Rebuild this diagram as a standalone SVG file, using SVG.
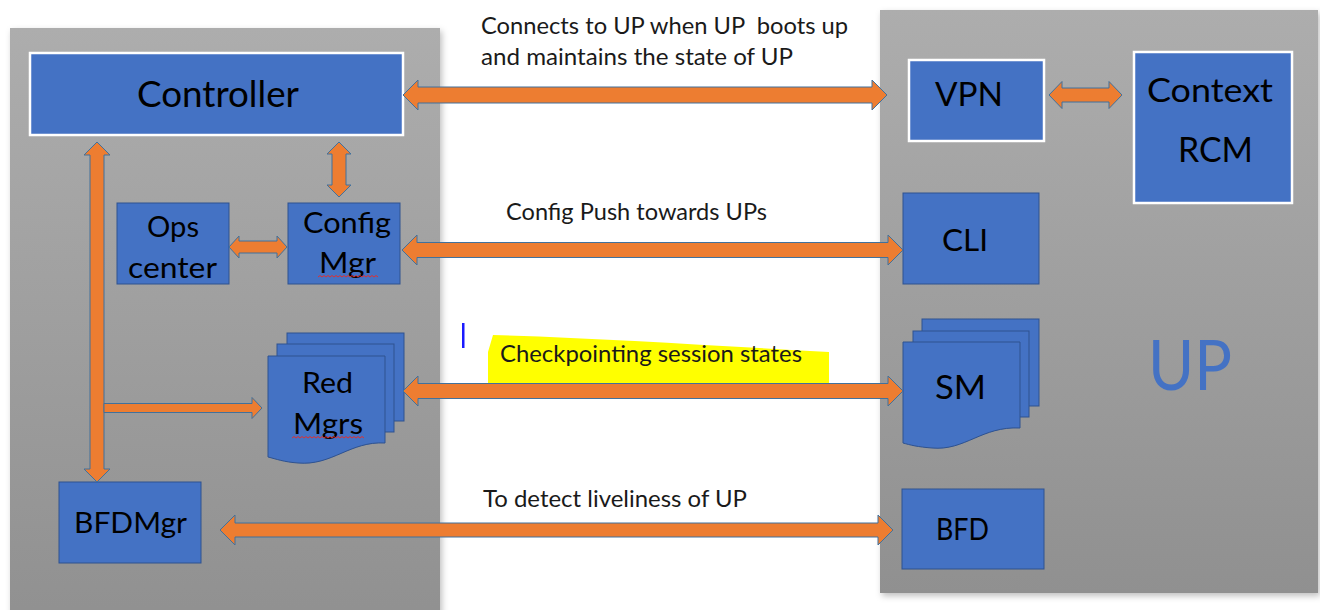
<svg xmlns="http://www.w3.org/2000/svg" width="1320" height="610" viewBox="0 0 1320 610">
<defs>
<linearGradient id="panelGrad" x1="0" y1="0" x2="0" y2="1">
<stop offset="0" stop-color="#adadad"/>
<stop offset="1" stop-color="#909090"/>
</linearGradient>
<filter id="shadow" x="-5%" y="-5%" width="110%" height="110%">
<feDropShadow dx="2" dy="3" stdDeviation="3" flood-color="#000" flood-opacity="0.25"/>
</filter>
</defs>
<style>
.panel{fill:url(#panelGrad);filter:url(#shadow)}
.box{fill:#4472c4;stroke:#2f528f;stroke-width:1}
.wbox{fill:#4472c4;stroke:#ffffff;stroke-width:2.5}
.arrow{fill:#ed7d31;stroke:#41719c;stroke-width:1}
.t{font-family:Lato,"Liberation Sans",sans-serif;fill:#000}
.lbl{font-family:Lato,"Liberation Sans",sans-serif;fill:#1a1a1a;font-size:23px;white-space:pre}
.sq{fill:none;stroke:#e03030;stroke-width:1}
</style>
<rect width="1320" height="610" fill="#ffffff"/>

<g id="panel-left">
<rect class="panel" x="10" y="28" width="430" height="600"/>
</g>
<g id="panel-up">
<rect class="panel" x="880" y="10" width="438" height="583"/>
<text class="t" x="1148" y="390" font-size="70" fill="#4472c4" style="fill:#4472c4" textLength="84" lengthAdjust="spacingAndGlyphs">UP</text>
</g>

<g id="labels">
<text class="lbl" x="481" y="34" textLength="367" lengthAdjust="spacingAndGlyphs" xml:space="preserve">Connects to UP when UP  boots up</text>
<text class="lbl" x="481" y="65" textLength="312" lengthAdjust="spacingAndGlyphs">and maintains the state of UP</text>
<text class="lbl" x="506" y="220" textLength="261" lengthAdjust="spacingAndGlyphs">Config Push towards UPs</text>
<path d="M488,352 L493,335 C600,338 720,346 829,352 L829,383 L488,383 Z" fill="#ffff00"/>
<text class="lbl" x="500" y="362" textLength="302" lengthAdjust="spacingAndGlyphs">Checkpointing session states</text>
<rect x="462" y="323" width="2.5" height="25" fill="#1a1aff"/>
<text class="lbl" x="483" y="507" textLength="264" lengthAdjust="spacingAndGlyphs">To detect liveliness of UP</text>
</g>

<g id="controller">
<rect class="wbox" x="30" y="53" width="373" height="82"/>
<text class="t" x="137" y="107" font-size="36" textLength="162" lengthAdjust="spacingAndGlyphs">Controller</text>
</g>
<g id="ops-center">
<rect class="box" x="117" y="203" width="112" height="81"/>
<text class="t" x="147" y="237" font-size="28" textLength="52" lengthAdjust="spacingAndGlyphs">Ops</text>
<text class="t" x="128" y="278" font-size="28" textLength="89" lengthAdjust="spacingAndGlyphs">center</text>
</g>
<g id="config-mgr">
<rect class="box" x="288" y="203" width="112" height="81"/>
<text class="t" x="303" y="233" font-size="28" textLength="88" lengthAdjust="spacingAndGlyphs">Config</text>
<text class="t" x="319" y="273" font-size="28" textLength="57" lengthAdjust="spacingAndGlyphs">Mgr</text>
<polyline class="sq" points="318,277 320,275.5 322,277 324,275.5 326,277 328,275.5 330,277 332,275.5 334,277 336,275.5 338,277 340,275.5 342,277 344,275.5 346,277 348,275.5 350,277 352,275.5 354,277 356,275.5 358,277 360,275.5 362,277 364,275.5 366,277 368,275.5 370,277 372,275.5 374,277 376,275.5 378,277"/>
</g>
<g id="red-mgrs">
<rect class="box" x="287" y="333" width="117" height="88"/>
<rect class="box" x="277" y="344" width="117" height="88"/>
<path class="box" d="M268,356 H385 V443 C350,441 332,466 298,463 C284,462 276,459 268,457 Z"/>
<text class="t" x="302" y="393" font-size="29" textLength="51" lengthAdjust="spacingAndGlyphs">Red</text>
<text class="t" x="293" y="434" font-size="29" textLength="70" lengthAdjust="spacingAndGlyphs">Mgrs</text>
<polyline class="sq" points="292,438 294,436.5 296,438 298,436.5 300,438 302,436.5 304,438 306,436.5 308,438 310,436.5 312,438 314,436.5 316,438 318,436.5 320,438 322,436.5 324,438 326,436.5 328,438 330,436.5 332,438 334,436.5 336,438 338,436.5 340,438 342,436.5 344,438 346,436.5 348,438 350,436.5 352,438 354,436.5 356,438 358,436.5 360,438 362,436.5 364,438"/>
</g>
<g id="bfdmgr">
<rect class="box" x="59" y="482" width="142" height="81"/>
<text class="t" x="74" y="533" font-size="28" textLength="113" lengthAdjust="spacingAndGlyphs">BFDMgr</text>
</g>

<g id="vpn">
<rect class="wbox" x="909" y="60" width="135" height="81"/>
<text class="t" x="935" y="106" font-size="33" textLength="68" lengthAdjust="spacingAndGlyphs">VPN</text>
</g>
<g id="context-rcm">
<rect class="wbox" x="1134" y="52" width="158" height="151"/>
<text class="t" x="1147" y="102" font-size="33" textLength="126" lengthAdjust="spacingAndGlyphs">Context</text>
<text class="t" x="1178" y="162" font-size="34" textLength="75" lengthAdjust="spacingAndGlyphs">RCM</text>
</g>
<g id="cli">
<rect class="box" x="903" y="193" width="136" height="91"/>
<text class="t" x="942" y="251" font-size="31" textLength="46" lengthAdjust="spacingAndGlyphs">CLI</text>
</g>
<g id="sm">
<rect class="box" x="922" y="319" width="117" height="87"/>
<rect class="box" x="913" y="331" width="116" height="86"/>
<path class="box" d="M903,342 H1020 V428 C982,426 965,451 932,448 C918,447 910,445 903,443 Z"/>
<text class="t" x="935" y="399" font-size="33" textLength="51" lengthAdjust="spacingAndGlyphs">SM</text>
</g>
<g id="bfd">
<rect class="box" x="902" y="489" width="142" height="80"/>
<text class="t" x="936" y="540" font-size="30" textLength="53" lengthAdjust="spacingAndGlyphs">BFD</text>
</g>

<g id="connectors">
<polygon class="arrow" points="403,95 418,80 418,87 872,87 872,80 887,95 872,110 872,103 418,103 418,110"/>
<polygon class="arrow" points="402,250 417,235 417,242.5 888,242.5 888,235 903,250 888,265 888,257.5 417,257.5 417,265"/>
<polygon class="arrow" points="403,391 418,376 418,383.5 888,383.5 888,376 903,391 888,406 888,398.5 418,398.5 418,406"/>
<polygon class="arrow" points="220,530 235,515 235,523 878,523 878,515 893,530 878,545 878,537 235,537 235,545"/>
<polygon class="arrow" points="1049,95 1062,81.5 1062,88 1109,88 1109,81.5 1122,95 1109,108.5 1109,102 1062,102 1062,108.5"/>
<polygon class="arrow" points="229,247 239,236 239,241 277,241 277,236 287,247 277,258 277,253 239,253 239,258"/>
<polygon class="arrow" points="339,142 351,154 346,154 346,185 351,185 339,197 327,185 332,185 332,154 327,154"/>
<polygon class="arrow" points="97,142 110,155 104,155 104,469 110,469 97,482 84,469 90,469 90,155 84,155"/>
<polygon class="arrow" points="104,403.5 252,403.5 252,397.5 262,408 252,418.5 252,412.5 104,412.5"/>
</g>
</svg>
